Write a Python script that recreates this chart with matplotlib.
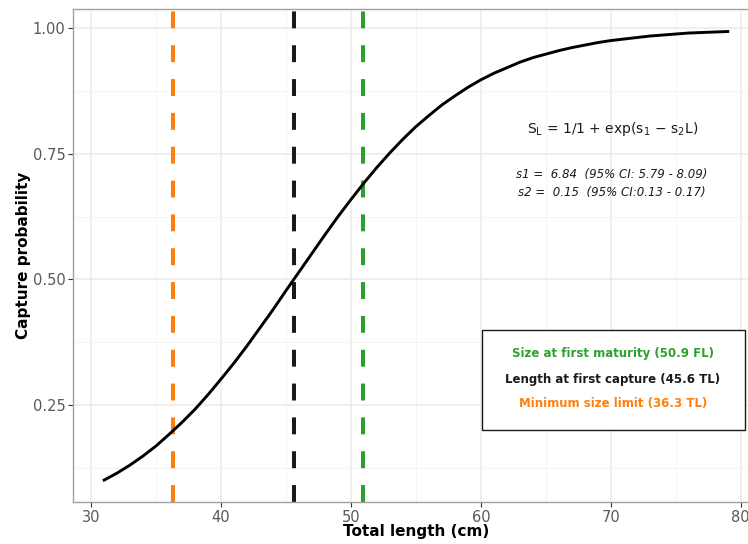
import matplotlib
matplotlib.use('Agg')
import matplotlib.pyplot as plt
from matplotlib.ticker import MultipleLocator

# Selectivity curve (every 1 cm)
length_cm = list(range(31, 80))
capture_prob = [0.101, 0.115, 0.131, 0.149, 0.169, 0.192, 0.216, 0.242, 0.271,
                0.302, 0.334, 0.368, 0.404, 0.440, 0.478, 0.515, 0.552, 0.589,
                0.625, 0.659, 0.692, 0.723, 0.752, 0.779, 0.804, 0.826, 0.847,
                0.865, 0.882, 0.897, 0.910, 0.921, 0.932, 0.941, 0.948, 0.955,
                0.961, 0.966, 0.971, 0.975, 0.978, 0.981, 0.984, 0.986, 0.988,
                0.990, 0.991, 0.992, 0.993]

# reference lengths
ref_values = [50.9, 45.6, 36.3]
ref_labels = ['Size at first maturity (50.9 FL)',
              'Length at first capture (45.6 TL)',
              'Minimum size limit (36.3 TL)']
ref_colors = ['#2ca02c', '#1a1a1a', '#ff7f0e']

x_ticks = [30, 40, 50, 60, 70, 80]
y_ticks = [0.25, 0.50, 0.75, 1.00]

fig = plt.figure(figsize=(7.48, 5.44), dpi=100)
ax = fig.add_axes([0.0976, 0.0763, 0.917, 0.907])

# ggplot-like expansion of the data range
x_pad = (max(length_cm) - min(length_cm)) * 0.05
y_pad = (max(capture_prob) - min(capture_prob)) * 0.05
ax.set_xlim(min(length_cm) - x_pad, max(length_cm) + x_pad)
ax.set_ylim(min(capture_prob) - y_pad, max(capture_prob) + y_pad)

ax.set_xticks(x_ticks)
ax.set_yticks(y_ticks)
ax.set_yticklabels([f'{v:.2f}' for v in y_ticks])
ax.xaxis.set_minor_locator(MultipleLocator(5))
ax.yaxis.set_minor_locator(MultipleLocator(0.125))
ax.grid(which='major', color='#ebebeb', linewidth=1.1)
ax.grid(which='minor', color='#f3f3f3', linewidth=0.6)
ax.set_axisbelow(True)
ax.tick_params(which='minor', length=0)
ax.tick_params(which='major', length=3.5, color='#333333', labelsize=10.5,
               labelcolor='#595959', pad=2)
for sp in ax.spines.values():
    sp.set_color('#a0a0a0')
    sp.set_linewidth(1.0)

for val, col in zip(ref_values, ref_colors):
    ax.axvline(val, color=col, linewidth=2.9, dashes=(4.2, 4.2), zorder=2)

ax.plot(length_cm, capture_prob, color='black', linewidth=2.1, zorder=3,
        solid_joinstyle='round')

ax.set_xlabel('Total length (cm)', fontsize=11, fontweight='bold')
ax.set_ylabel('Capture probability', fontsize=11, fontweight='bold')
ax.xaxis.set_label_coords(0.5, -0.044)
ax.yaxis.set_label_coords(-0.061, 0.5)

# equation annotation
ax.text(70.1, 0.80, r'S$_\mathregular{L}$ = 1/1 + exp(s$_\mathregular{1}$ $-$ s$_\mathregular{2}$L)',
        ha='center', va='center', fontsize=10, color='#1a1a1a')
ax.text(70.1, 0.708, 's1 =  6.84  (95% CI: 5.79 - 8.09)',
        ha='center', va='center', fontsize=8.5, style='italic', color='#1a1a1a')
ax.text(70.1, 0.672, 's2 =  0.15  (95% CI:0.13 - 0.17)',
        ha='center', va='center', fontsize=8.5, style='italic', color='#1a1a1a')

# legend-like box in figure pixels
box = plt.Rectangle((482 / 748, (544 - 430) / 544), (745 - 482) / 748, 100 / 544,
                    transform=fig.transFigure, facecolor='white',
                    edgecolor='#1a1a1a', linewidth=1.0, zorder=5)
fig.patches.append(box)
for i, (lab, col) in enumerate(zip(ref_labels, ref_colors)):
    y_px = 354 + i * 25
    fig.text(613 / 748, (544 - y_px) / 544, lab, ha='center', va='center',
             fontsize=8.5, fontweight='bold', color=col, zorder=6)

fig.savefig('out.png', dpi=100)
